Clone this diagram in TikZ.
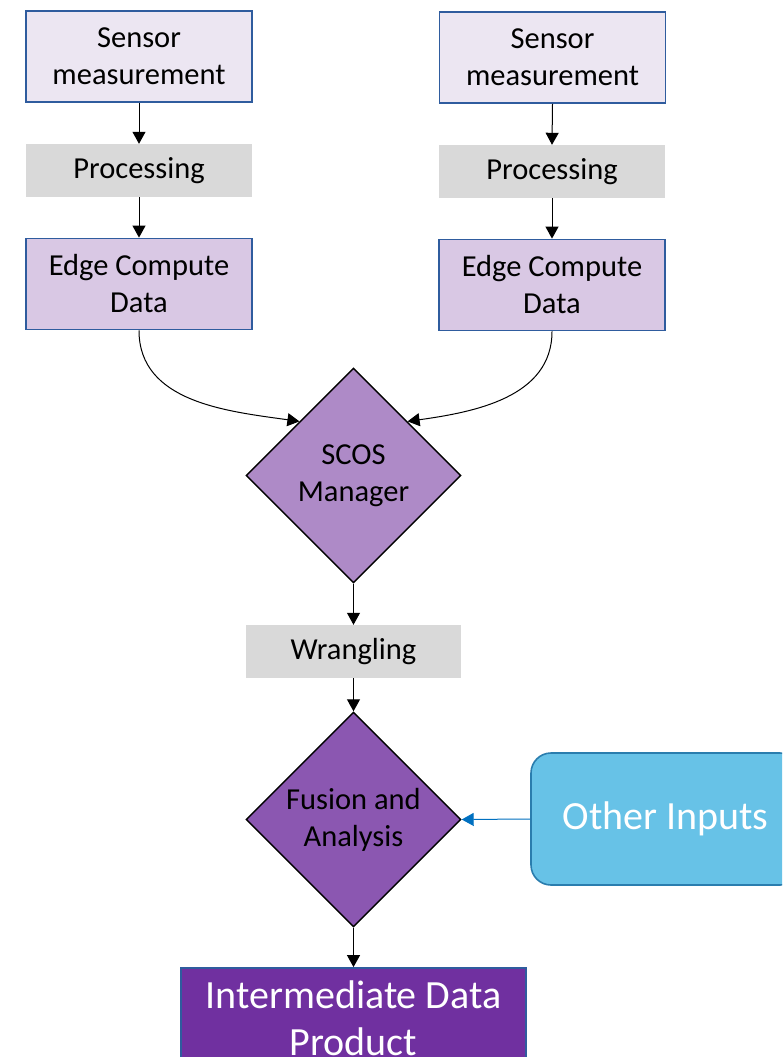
\documentclass[tikz,border=0pt]{standalone}
\usepackage{fontspec}
\setmainfont{Carlito}
\usetikzlibrary{shapes.geometric,arrows.meta}

\definecolor{edgeblue}{HTML}{2F5C9E}
\definecolor{sensorfill}{HTML}{ECE6F2}
\definecolor{procgray}{HTML}{D9D9D9}
\definecolor{edgefill}{HTML}{D9C8E4}
\definecolor{scosfill}{HTML}{AE8AC7}
\definecolor{fusionfill}{HTML}{8B57B1}
\definecolor{productfill}{HTML}{7030A0}
\definecolor{otherfill}{HTML}{67C2E7}
\definecolor{otherline}{HTML}{2A7DAE}
\definecolor{linkblue}{HTML}{0070C0}

\begin{document}
\begin{tikzpicture}[x=1pt,y=1pt,
  body/.style={font=\fontsize{30.5}{37}\selectfont, align=center, inner sep=0pt},
  big/.style={font=\fontsize{40}{47}\selectfont, align=center, inner sep=0pt, text=white},
  bluebox/.style={body, rectangle, draw=edgeblue, line width=1.8pt,
    minimum width=226pt, minimum height=91pt},
  sensorbox/.style={bluebox, fill=sensorfill},
  edgebox/.style={bluebox, fill=edgefill},
  procbox/.style={body, rectangle, fill=procgray, minimum width=226pt, minimum height=53pt},
  decision/.style={body, diamond, aspect=1, draw=black, line width=1.4pt,
    minimum width=215pt, minimum height=215pt},
  arr/.style={draw=black, line width=1pt, -{Triangle[length=12pt,width=13pt]}},
  bluearr/.style={draw=linkblue, line width=1pt, -{Triangle[length=12pt,width=13pt]}}
]
\useasboundingbox (0,0) rectangle (782,-1057);
\clip (0,0) rectangle (782,-1057);
\fill[white] (0,0) rectangle (782,-1057);

% left sensor chain
\node[sensorbox] (s1) at (139,-56.5) {Sensor\\measurement};
\node[procbox]   (p1) at (139,-170.5) {Processing};
\node[edgebox]   (e1) at (139,-284) {Edge Compute\\Data};

% right sensor chain
\node[sensorbox] (s2) at (552.5,-57.5) {Sensor\\measurement};
\node[procbox]   (p2) at (552,-171.5) {Processing};
\node[edgebox]   (e2) at (552,-285) {Edge Compute\\Data};

% central processing
\node[decision, fill=scosfill] (scos) at (353.5,-475.5) {SCOS\\Manager};
\node[body, rectangle, fill=procgray, minimum width=215pt, minimum height=53pt]
  (wr) at (353.5,-651.5) {Wrangling};
\node[decision, fill=fusionfill] (fus) at (353.5,-819.5) {Fusion and\\Analysis};

% side input and result
\node[big, rectangle, rounded corners=20pt, draw=otherline, line width=1.6pt,
  fill=otherfill, minimum width=269pt, minimum height=132pt]
  (oth) at (665.5,-819) {Other Inputs};
\node[big, rectangle, draw=edgeblue, line width=1.8pt, fill=productfill,
  minimum width=345pt, minimum height=100pt]
  (idp) at (353.5,-1018) {Intermediate Data\\Product};

% connectors
\draw[arr] (s1.south) -- (p1.north);
\draw[arr] (p1.south) -- (e1.north);
\draw[arr] (s2.south) -- (p2.north);
\draw[arr] (p2.south) -- (e2.north);
\draw[arr] (e1.south) to[out=-90,in=172] (scos.north west);
\draw[arr] (e2.south) to[out=-90,in=8] (scos.north east);
\draw[arr] (scos.south) -- (wr.north);
\draw[arr] (wr.south) -- (fus.north);
\draw[arr] (fus.south) -- (idp.north);
\draw[bluearr] (oth.west) -- (fus.east);
\end{tikzpicture}
\end{document}
